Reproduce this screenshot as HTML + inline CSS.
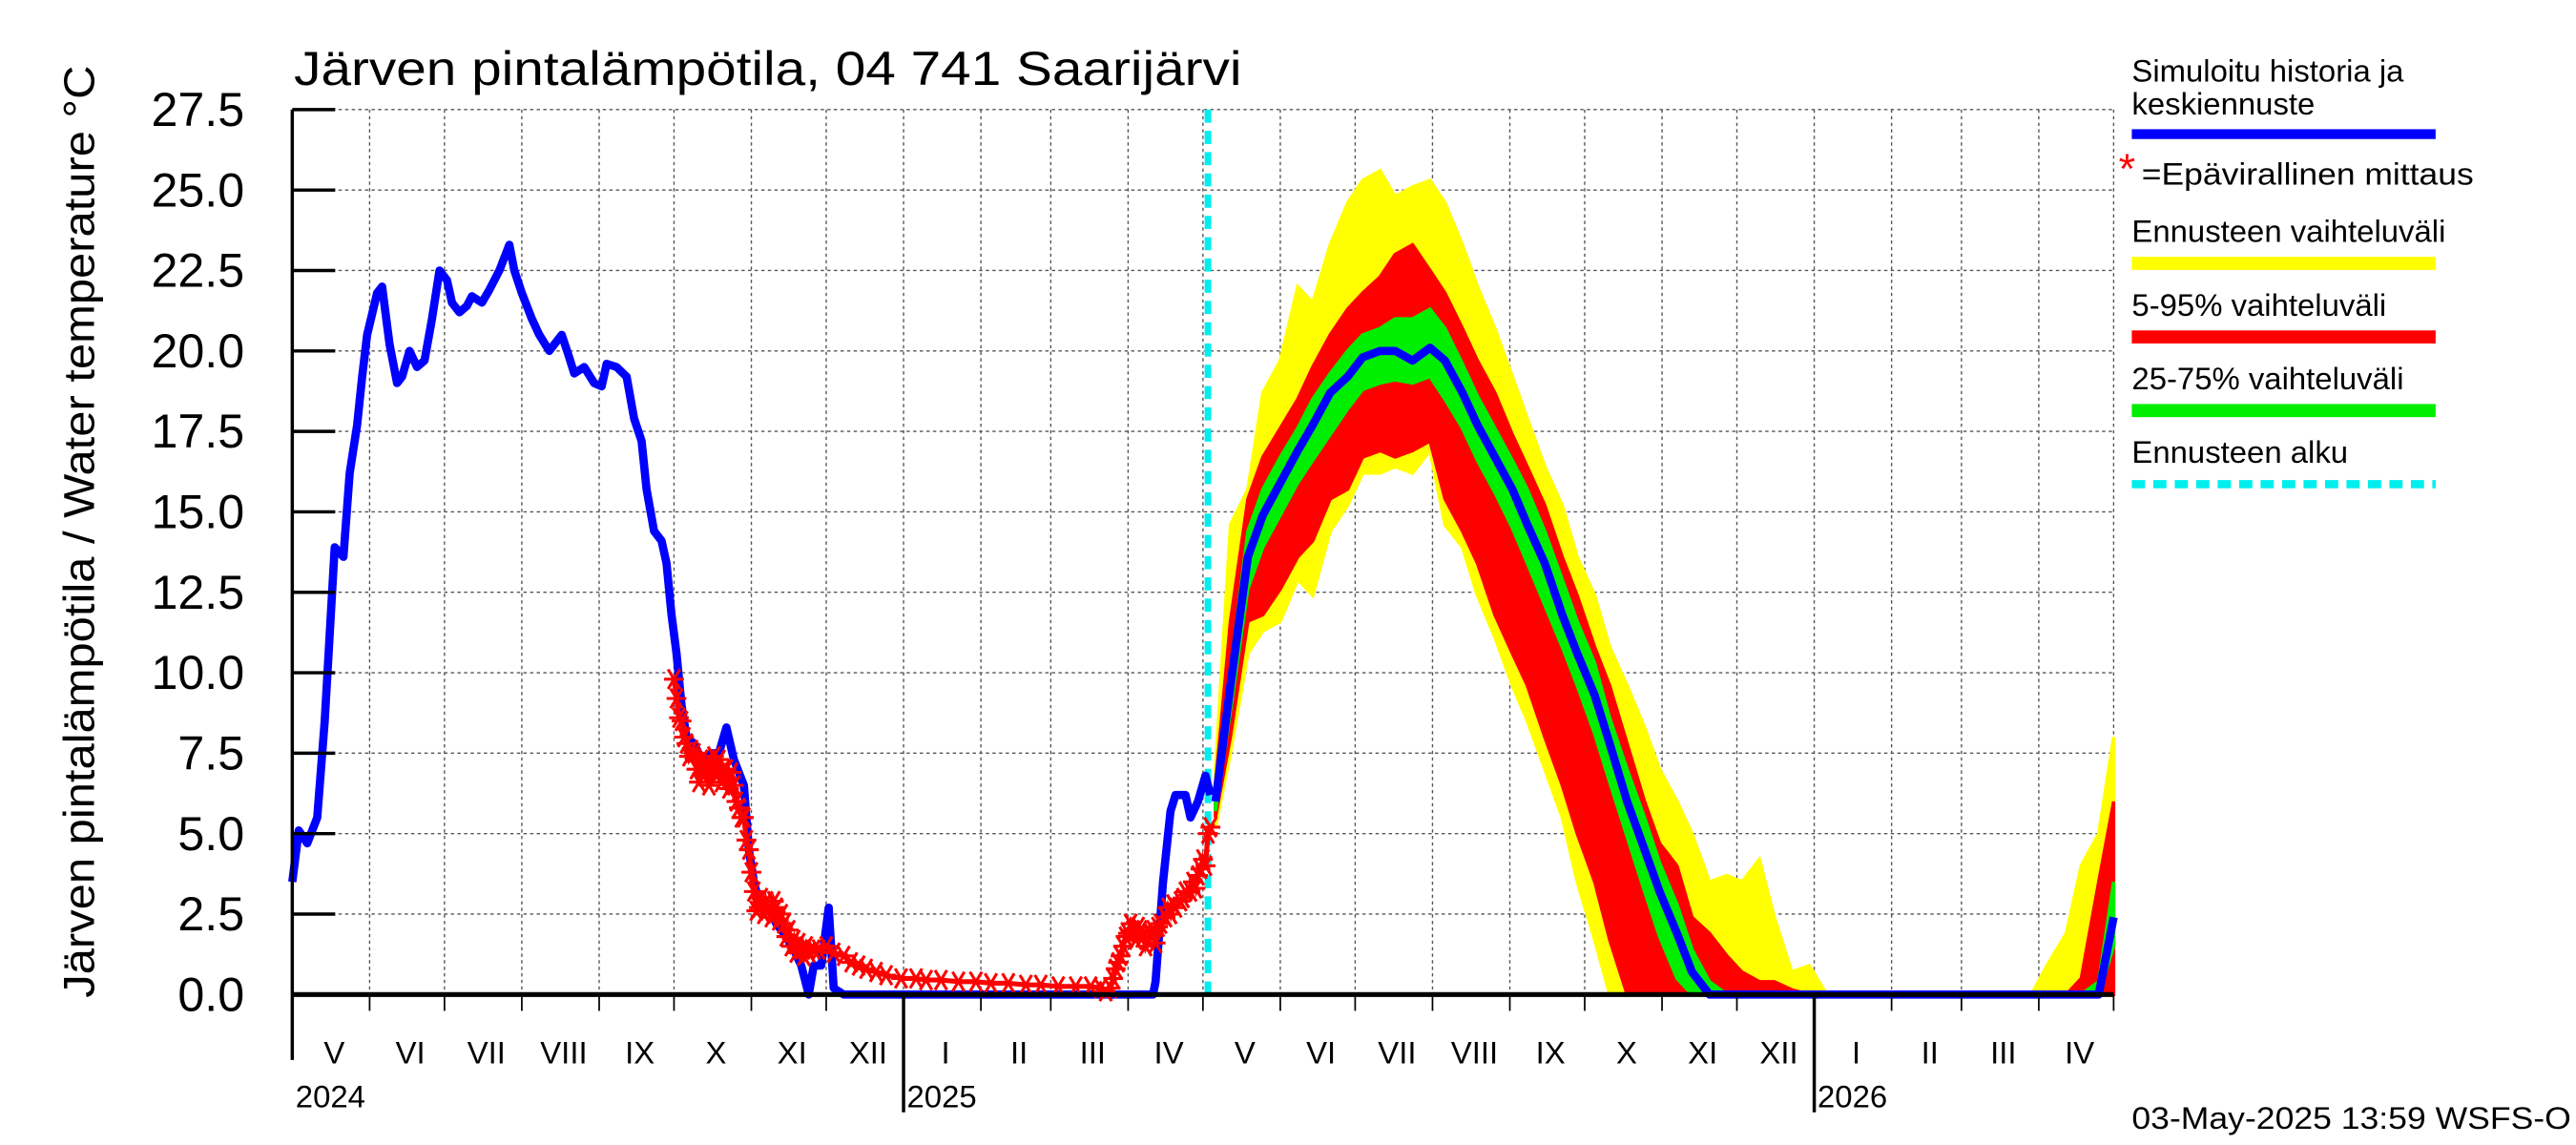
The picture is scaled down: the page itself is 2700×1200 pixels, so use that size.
<!DOCTYPE html>
<html><head><meta charset="utf-8"><style>
html,body{margin:0;padding:0;background:#fff;}
svg{display:block;font-family:"Liberation Sans",sans-serif;}
</style></head><body>
<svg id="chart" width="2700" height="1200" viewBox="0 0 1560 700" preserveAspectRatio="none" xmlns="http://www.w3.org/2000/svg">
<rect x="0" y="0" width="1560" height="700" fill="#fff"/>
<text x="178" y="52" font-size="29" textLength="574" lengthAdjust="spacingAndGlyphs">Järven pintalämpötila, 04 741 Saarijärvi</text>
<text transform="translate(57,325) rotate(-90)" text-anchor="middle" font-size="26" textLength="570" lengthAdjust="spacingAndGlyphs">Järven pintalämpötila / Water temperature °C</text>
<g id="grid"></g>
<g id="bands"></g>
<g id="lines"></g>
<g id="axes"></g>
<g font-size="19">
<text x="1291" y="50">Simuloitu historia ja</text>
<text x="1291" y="70">keskiennuste</text>
<rect x="1291" y="79" width="184" height="6" fill="#0000ff"/>
<text x="1283" y="112" font-size="26" fill="#ff0000">*</text>
<text x="1297" y="113" textLength="201" lengthAdjust="spacingAndGlyphs">=Epävirallinen mittaus</text>
<text x="1291" y="148">Ennusteen vaihteluväli</text>
<rect x="1291" y="157" width="184" height="8" fill="#ffff00"/>
<text x="1291" y="193">5-95% vaihteluväli</text>
<rect x="1291" y="202" width="184" height="8" fill="#ff0000"/>
<text x="1291" y="238">25-75% vaihteluväli</text>
<rect x="1291" y="247" width="184" height="8" fill="#00ee00"/>
<text x="1291" y="283">Ennusteen alku</text>
<line x1="1291" y1="296" x2="1475" y2="296" stroke="#00eeee" stroke-width="5" stroke-dasharray="8,5"/>
</g>
<text x="1291" y="690" font-size="19" textLength="266" lengthAdjust="spacingAndGlyphs">03-May-2025 13:59 WSFS-O</text>
</svg>
<script>
// Days are counted from 1 May 2024
const yTicks = ["0.0","2.5","5.0","7.5","10.0","12.5","15.0","17.5","20.0","22.5","25.0","27.5"];
const monthLabels = ["V","VI","VII","VIII","IX","X","XI","XII","I","II","III","IV","V","VI","VII","VIII","IX","X","XI","XII","I","II","III","IV"];
const monthLengths = [31,30,31,31,30,31,30,31,31,28,31,30,31,30,31,31,30,31,30,31,31,28,31,30];
const yearLabels = ["2024","2025","2026"];
const yearDays = [0,245,610];
const forecastStartDay = 367;

const histDays = [0,2.6,6,10,13,17,20.5,23,26,28,30,34,36,39,42,44,47,50,53,56,59,62,64,67,70,72,76,79,83,87,89,92,96,99,103,105,108,111,113,117,121,124,126,130,134,137,140,142,145,148,150,152,154,156,158,161,164,168,171,174,177,181,183,185,187,191,194,197,201,204,207,209,212,215,217,221,345,346,349,352,354,358,360,363,366,368];
const histTemp = [3.5,5.1,4.7,5.5,8.5,13.9,13.6,16.2,17.7,19.2,20.5,21.8,22.0,20.2,19.0,19.2,20.0,19.5,19.7,21.0,22.5,22.2,21.5,21.2,21.4,21.7,21.5,21.9,22.5,23.3,22.5,21.8,21.0,20.5,20.0,20.2,20.5,19.8,19.3,19.5,19.0,18.9,19.6,19.5,19.2,17.9,17.2,15.7,14.4,14.1,13.4,11.8,10.6,9.0,8.0,7.8,7.3,7.5,7.5,8.3,7.3,6.5,4.5,3.5,2.9,2.7,2.2,1.9,1.4,0.9,0,0.9,0.9,2.7,0.2,0,0,0.4,3.5,5.7,6.2,6.2,5.5,6.0,6.8,6.2];

const measDays = [153,154,155,156,157,158,159,160,161,162,163,164,165,166,167,168,169,170,171,172,173,174,175,176,177,178,179,180,181,182,183,184,185,186,187,188,189,190,191,192,193,194,195,196,197,198,199,200,201,202,203,204,205,206,207,209,211,214,217,221,224,227,230,234,238,244,250,254,260,267,274,280,287,294,300,307,314,320,324,326,328,329,330,331,332,333,334,335,336,337,338,339,340,341,342,343,344,345,346,347,348,350,351,352,353,354,356,357,358,360,361,362,363,364,365,366,367,368];
const measTemp = [9.8,9.2,8.6,8.5,8.0,7.8,7.4,7.6,7.5,7.0,6.6,7.3,6.8,7.2,6.5,7.0,7.4,6.8,7.3,6.6,7.0,7.0,6.4,6.9,6.5,6.0,5.8,5.5,5.5,4.8,4.5,3.8,3.2,2.6,2.7,3.0,2.5,2.9,2.7,2.4,2.9,2.7,2.3,2.5,2.2,1.8,2.0,1.5,1.7,1.3,1.6,1.4,1.2,1.5,1.3,1.4,1.4,1.5,1.3,1.2,1.0,0.9,0.8,0.7,0.6,0.5,0.5,0.45,0.45,0.4,0.4,0.35,0.35,0.3,0.3,0.25,0.25,0.25,0.2,0.1,0.2,0.5,0.8,1.0,1.2,1.5,1.8,1.9,2.2,2.0,1.7,2.1,2.0,1.8,1.5,1.7,1.9,2.0,1.6,2.1,2.2,2.4,2.7,2.5,2.8,2.7,2.9,3.0,3.2,3.2,3.5,3.3,3.7,3.9,4.2,4.0,5.0,5.2];

const fcDays = [370,376,383,389,396,403,409,416,423,429,436,442,449,456,462,469,475,482,489,495,502,509,515,522,528,535,542,548,555,561,568,575,581,588,594,601,608,615,697,704,711,717,724,730];
const rangeMax = [7.0,14.6,15.7,18.7,19.7,22.0,21.5,23.3,24.6,25.3,25.6,24.8,25.1,25.3,24.6,23.3,22.0,20.7,19.2,17.9,16.4,15.2,13.6,12.4,10.8,9.6,8.3,7.0,6.0,5.0,3.5,3.7,3.5,4.2,2.4,0.7,0.9,0,0,1.0,1.9,4.0,5.0,8.0];
const p95 = [6.5,11.6,15.4,16.7,17.6,18.5,19.5,20.5,21.3,21.8,22.3,23.0,23.3,22.5,21.8,20.7,19.7,18.7,17.4,16.4,15.2,13.6,12.4,10.8,9.6,7.8,6.0,4.7,4.0,2.4,1.9,1.2,0.7,0.4,0.4,0.15,0,0,0,0,0,0.5,3.5,6.0];
const p75 = [6.3,10.1,14.4,15.7,16.7,17.6,18.5,19.3,20.0,20.5,20.7,21.0,21.0,21.3,20.7,19.6,18.6,17.6,16.6,15.7,14.4,12.9,11.6,10.3,8.6,7.0,5.5,4.1,2.8,1.4,0.4,0,0,0,0,0,0,0,0,0,0,0,0.4,3.5];
const median = [6.0,9.6,13.6,14.9,15.9,16.9,17.7,18.7,19.2,19.8,20.0,20.0,19.7,20.1,19.7,18.7,17.7,16.7,15.7,14.6,13.4,11.8,10.6,9.3,7.8,6.0,4.5,3.2,1.9,0.7,0,0,0,0,0,0,0,0,0,0,0,0,0,2.4];
const p25 = [5.7,8.8,12.6,13.9,14.9,15.9,16.6,17.4,18.2,18.8,19.0,19.1,19.0,19.2,18.5,17.6,16.6,15.6,14.5,13.4,12.1,10.8,9.6,8.1,6.6,4.9,3.2,1.8,0.5,0,0,0,0,0,0,0,0,0,0,0,0,0,0,1.5];
const p5 = [5.5,8.0,11.6,11.8,12.6,13.6,14.1,15.4,15.7,16.7,16.9,16.7,16.9,17.2,15.4,14.4,13.4,11.8,10.6,9.6,8.0,6.5,5.0,3.5,1.7,0,0,0,0,0,0,0,0,0,0,0,0,0,0,0,0,0,0,0];
const rangeMin = [5.2,7.5,10.6,11.3,11.6,12.9,12.4,14.4,15.2,16.2,16.2,16.4,16.2,16.9,14.6,13.9,12.4,11.1,9.6,8.5,7.0,5.5,3.5,1.7,0,0,0,0,0,0,0,0,0,0,0,0,0,0,0,0,0,0,0,0];

const NS = "http://www.w3.org/2000/svg";
const X0 = 177, X1 = 1280, Y0 = 608, YTOP = 67;
const totalDays = 730;
function xd(d){ return X0 + d * (X1 - X0) / totalDays; }
function yv(v){ return Y0 - v * (Y0 - YTOP) / 27.5; }
function mk(tag, parent, attrs){
  const e = document.createElementNS(NS, tag);
  for (const k in attrs) e.setAttribute(k, attrs[k]);
  parent.appendChild(e);
  return e;
}
const grid = document.getElementById('grid');
const axes = document.getElementById('axes');
const bands = document.getElementById('bands');
const lines = document.getElementById('lines');

yTicks.forEach((t, i) => {
  const v = parseFloat(t), y = yv(v);
  if (i > 0) {
    const g = mk('line', grid, {x1: X0, y1: y, x2: X1, y2: y, stroke: '#555', 'stroke-width': 0.8, 'stroke-dasharray': '2,2'});
    
    
  }
  const tk = mk('line', axes, {x1: X0, y1: y, x2: X0 + 26, y2: y, stroke: '#000', 'stroke-width': 2});
  
  
  const tx = mk('text', axes, {x: 148, y: y + 10, 'text-anchor': 'end', 'font-size': 29});
  tx.textContent = t;
  
  
});

let acc = 0;
monthLengths.forEach((len, i) => {
  const start = acc, end = acc + len;
  acc = end;
  const xe = xd(end);
  const gl = mk('line', grid, {x1: xe, y1: YTOP, x2: xe, y2: Y0, stroke: '#555', 'stroke-width': 0.8, 'stroke-dasharray': '2,2'});
  
  
  const isYear = yearDays.indexOf(end) >= 0;
  const tk = mk('line', axes, {x1: xe, y1: Y0, x2: xe, y2: isYear ? 680 : 618, stroke: '#000', 'stroke-width': isYear ? 2 : 1});
  
  
  const lb = mk('text', axes, {x: xd((start + end) / 2) + 2, y: 650, 'text-anchor': 'middle', 'font-size': 19});
  lb.textContent = monthLabels[i];
  
  
});
yearLabels.forEach((t, i) => {
  const lb = mk('text', axes, {x: xd(yearDays[i]) + 2, y: 677, 'font-size': 19});
  lb.textContent = t;
  
  
});
const la = mk('line', axes, {x1: X0, y1: YTOP, x2: X0, y2: Y0 + 40, stroke: '#000', 'stroke-width': 2});


const ba = mk('line', axes, {x1: X0, y1: Y0, x2: X1, y2: Y0, stroke: '#000', 'stroke-width': 3});



function band(upper, lower, color, name){
  let pts = [];
  fcDays.forEach((d, i) => pts.push(xd(d) + ',' + yv(upper[i])));
  for (let i = fcDays.length - 1; i >= 0; i--) pts.push(xd(fcDays[i]) + ',' + yv(lower[i]));
  const p = mk('polygon', bands, {points: pts.join(' '), fill: color, stroke: color, 'stroke-width': 2});
  
  
}
band(rangeMax, rangeMin, '#ffff00', 'forecast-range-band');
band(p95, p5, '#ff0000', 'band-5-95');
band(p75, p25, '#00ee00', 'band-25-75');

const fs = mk('line', lines, {x1: xd(forecastStartDay), y1: YTOP, x2: xd(forecastStartDay), y2: Y0, stroke: '#00eeee', 'stroke-width': 4, 'stroke-dasharray': '8,5'});



const hp = mk('polyline', lines, {points: histDays.map((d, i) => xd(d) + ',' + yv(histTemp[i])).join(' '), fill: 'none', stroke: '#0000ff', 'stroke-width': 5, 'stroke-linejoin': 'round'});



const mp = mk('polyline', lines, {points: measDays.map((d, i) => xd(d) + ',' + yv(measTemp[i])).join(' '), fill: 'none', stroke: '#ff0000', 'stroke-width': 3});


measDays.forEach((d, i) => {
  const x = xd(d), y = yv(measTemp[i]), s = 6;
  const a = mk('path', lines, {d: `M${x-s},${y}H${x+s}M${x-s*0.6},${y-s}L${x+s*0.6},${y+s}M${x+s*0.6},${y-s}L${x-s*0.6},${y+s}`, stroke: '#ff0000', 'stroke-width': 1.8, fill: 'none'});
  
  
});

const md = mk('polyline', lines, {points: fcDays.map((d, i) => xd(d) + ',' + yv(median[i])).join(' '), fill: 'none', stroke: '#0000ff', 'stroke-width': 5, 'stroke-linejoin': 'round'});


</script>
</body></html>
